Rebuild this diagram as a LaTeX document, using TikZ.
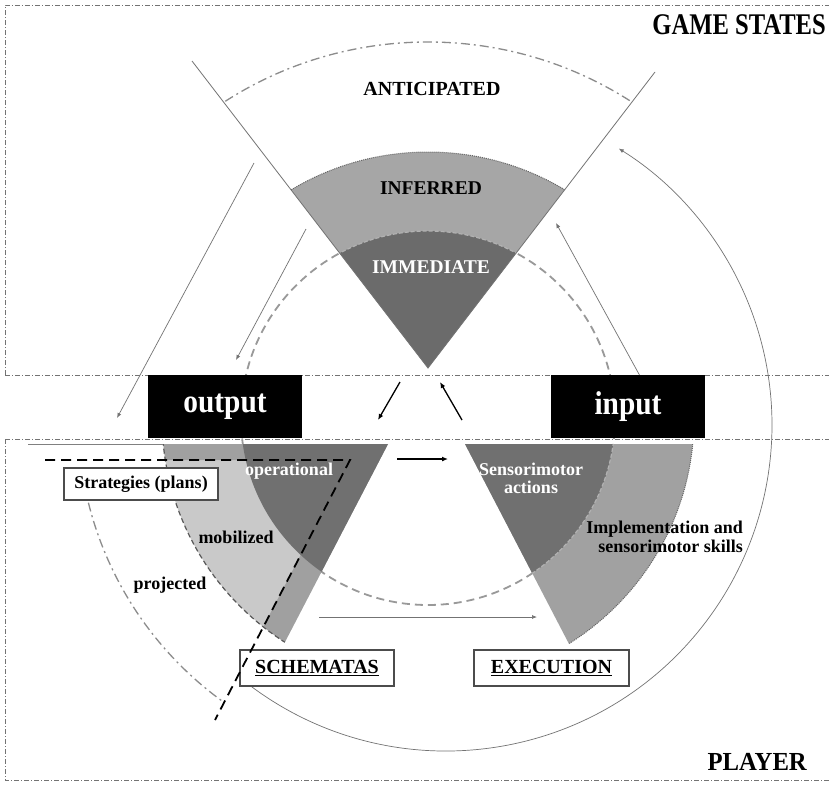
\documentclass[tikz,border=0pt]{standalone}
\usepackage{fontspec}
\setmainfont{Liberation Serif}
\usetikzlibrary{arrows.meta}
\definecolor{cInf}{gray}{0.65}
\definecolor{cImm}{gray}{0.42}
\definecolor{cLight}{gray}{0.79}
\definecolor{cDark}{gray}{0.44}
\definecolor{cImpl}{gray}{0.63}
\definecolor{cLine}{gray}{0.45}
\begin{document}
\begin{tikzpicture}[x=1pt,y=-1pt,
  framedd/.style={draw=cLine, line width=0.8pt, dash pattern=on 5pt off 2pt on 1pt off 2pt},
  arcdd/.style={draw=black!45, line width=1.3pt, dash pattern=on 9pt off 4pt on 2pt off 4pt},
  graydash/.style={draw=black!40, line width=1.8pt, dash pattern=on 8pt off 5pt},
  darkdot/.style={draw=black!60, line width=1pt, dash pattern=on 1pt off 1pt},
  darkdash/.style={draw=black!65, line width=1.2pt, dash pattern=on 5pt off 3pt},
  lightdash/.style={draw=black!30, line width=1.2pt, dash pattern=on 4pt off 2pt},
  thinarrow/.style={draw=cLine, line width=0.7pt, -{Latex[length=5pt,width=4pt]}},
  blackarrow/.style={draw=black, line width=1.3pt, -{Latex[length=6pt,width=5pt]}},
  lbl/.style={font=\bfseries\fontsize{18}{19}\selectfont, inner sep=0pt},
  bigl/.style={font=\bfseries\fontsize{19.5}{21}\selectfont, inner sep=0pt},
  wbox/.style={draw=black!70, line width=1.1pt, fill=white, inner sep=0pt},
  kbox/.style={fill=black, text=white, inner sep=0pt, minimum width=154pt, minimum height=63pt,
    font=\bfseries\fontsize{33}{34}\selectfont}
]
\useasboundingbox (0,0) rectangle (833,785);
\fill[white] (0,0) rectangle (833,785);

% frames
\draw[framedd] (5,375) -- (5,5) -- (829,5);
\draw[framedd] (5,375) -- (829,375);
\draw[framedd] (5,439) -- (829,439);
\draw[framedd] (5,439) -- (5,780) -- (829,780);

\coordinate (C) at (428,418);
\coordinate (P) at (428,368);

% central dashed circle
\draw[graydash] (C) circle[radius=187];

% top fan
\begin{scope}
  \clip (P) -- (145,0) -- (710,0) -- cycle;
  \fill[cInf] (C) circle[radius=266];
  \fill[cImm] (C) circle[radius=187];
  \draw[darkdot] (C) circle[radius=266];
  \draw[lightdash] (C) circle[radius=187];
  \draw[arcdd] (C) circle[radius=376];
\end{scope}
\coordinate (VL) at (192,61);
\coordinate (VR) at (655,72);
\draw[cLine, line width=0.8pt] (VL) -- (P) -- (VR);

% left fan
\begin{scope}
  \clip (0,444) -- (388,444) -- (223.6,760) -- (0,760) -- cycle;
  \clip (C) circle[radius=266];
  \fill[cLight] (0,444) rectangle (500,760);
  \fill[black, opacity=0.2] (0,440) -- (500,440) -- (500,760) -- (194,760) -- (350,460) -- (0,460) -- cycle;
  \fill[cDark] (C) circle[radius=187];
\end{scope}
\begin{scope}
  \clip (0,444) -- (388,444) -- (223.6,760) -- (0,760) -- cycle;
  \draw[darkdash] (C) circle[radius=266];
\end{scope}

% right fan
\begin{scope}
  \clip (465,444) -- (833,444) -- (833,760) -- (629.4,760) -- cycle;
  \fill[cImpl] (C) circle[radius=266];
  \fill[cDark] (C) circle[radius=187];
  \draw[darkdot] (C) circle[radius=266];
  \draw[lightdash] (C) circle[radius=187];
\end{scope}

% projected arc
\draw[arcdd] (C) ++(166:350) arc[start angle=166, end angle=126, radius=350];

% big arc arrow
\coordinate (BC) at (446,425);
\draw[thinarrow] (BC) ++(127:326) arc[start angle=127, end angle=-58, radius=326];

% gray line at top of player region
\coordinate (g1) at (28,444);
\coordinate (g2) at (163,444);
\draw[black!50, line width=1pt] (g1) -- (g2);

% thin arrows
\coordinate (a1s) at (254,163); \coordinate (a1e) at (117,418);
\coordinate (a2s) at (306,229); \coordinate (a2e) at (236,360);
\coordinate (a3s) at (640,376); \coordinate (a3e) at (556,223);
\coordinate (a4s) at (319,617); \coordinate (a4e) at (537,617);
\draw[thinarrow] (a1s) -- (a1e);
\draw[thinarrow] (a2s) -- (a2e);
\draw[thinarrow] (a3s) -- (a3e);
\draw[thinarrow] (a4s) -- (a4e);

% black arrows
\coordinate (b1s) at (400,382); \coordinate (b1e) at (378,420);
\coordinate (b2s) at (462,420); \coordinate (b2e) at (440,382);
\coordinate (b3s) at (397,459); \coordinate (b3e) at (448,459);
\draw[blackarrow] (b1s) -- (b1e);
\draw[blackarrow] (b2s) -- (b2e);
\draw[blackarrow] (b3s) -- (b3e);

% black boxes
\node[kbox] (output) at (225,406.5) {\scalebox{0.89}[1]{output}};
\node[kbox] (input) at (628,406.5) {\scalebox{0.89}[1]{input}};

% white boxes
\node[wbox, minimum width=154pt, minimum height=32pt, font=\bfseries\fontsize{18}{19}\selectfont] (strat) at (141,484) {Strategies (plans)};
\node[wbox, minimum width=154pt, minimum height=36pt, font=\bfseries\fontsize{20}{21}\selectfont] (schem) at (317,668) {\underline{SCHEMATAS}};
\node[wbox, minimum width=155pt, minimum height=36pt, font=\bfseries\fontsize{20}{21}\selectfont] (exec) at (551.5,668) {\underline{EXECUTION}};

% black dashed angle
\coordinate (d1) at (45,460);
\coordinate (d2) at (350,460);
\coordinate (d3) at (215,720);
\draw[black, line width=1.8pt, dash pattern=on 10pt off 6pt] (d1) -- (d2) -- (d3);

% labels
\node[font=\bfseries\fontsize{30}{31}\selectfont, inner sep=0pt, anchor=east] (gs) at (826,25) {\scalebox{0.82}[1]{GAME STATES}};
\node[font=\bfseries\fontsize{26}{27}\selectfont, inner sep=0pt, anchor=east] (pl) at (807,761.5) {\scalebox{0.95}[1]{PLAYER}};
\node[font=\bfseries\fontsize{20}{21}\selectfont, inner sep=0pt] (ant) at (432,89) {ANTICIPATED};
\node[bigl] (inf) at (431,188) {INFERRED};
\node[bigl, text=white] (imm) at (431,267) {IMMEDIATE};
\node[lbl, text=white] (oper) at (289,471) {operational};
\node[lbl] (mob) at (236,537) {mobilized};
\node[lbl] (proj) at (170,585) {projected};
\node[lbl, text=white, align=center, font=\bfseries\fontsize{18}{18}\selectfont] (sens) at (531,478) {Sensorimotor\\actions};
\node[lbl, align=right, anchor=east, font=\bfseries\fontsize{18}{19.5}\selectfont] (impl) at (743,537) {Implementation and\\sensorimotor skills};
\end{tikzpicture}
\end{document}
